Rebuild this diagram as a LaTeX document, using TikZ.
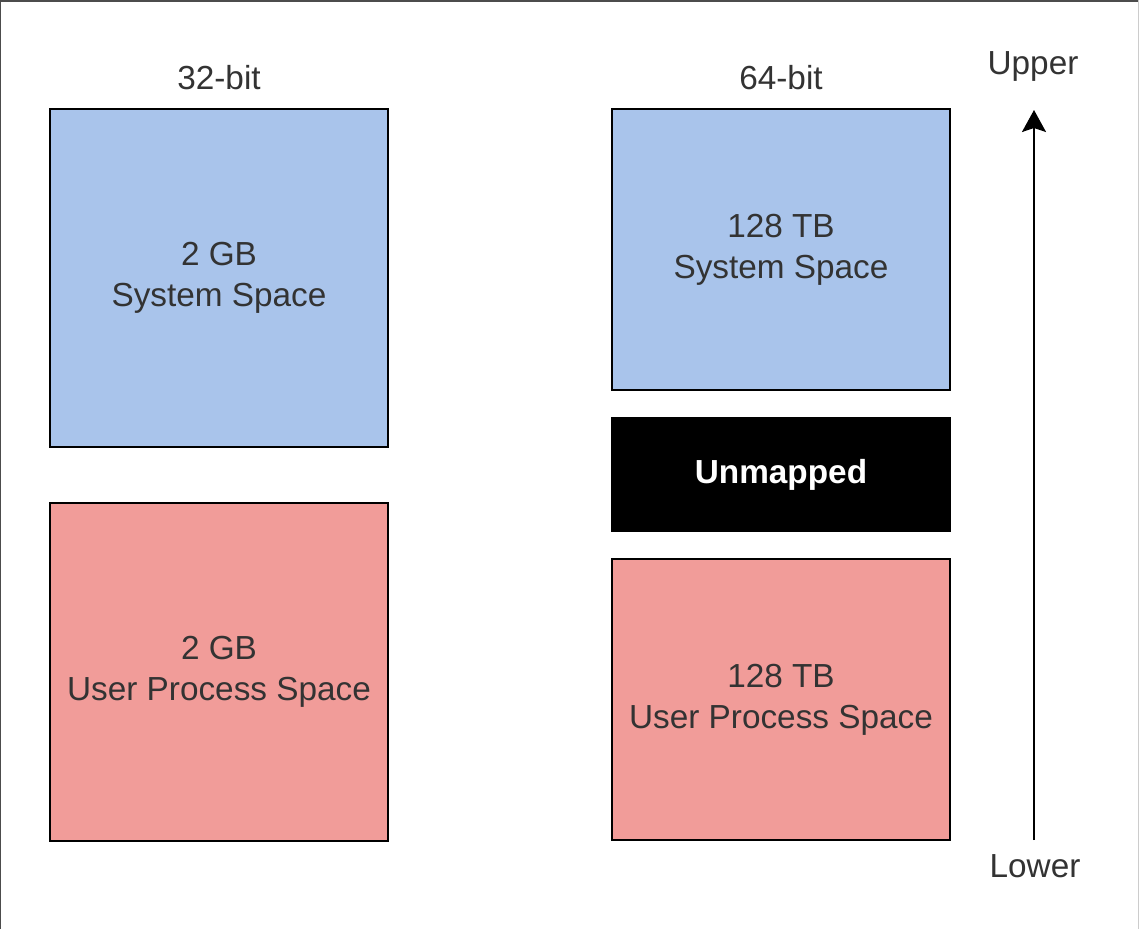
\documentclass[tikz,border=0pt]{standalone}
\usepackage{fontspec}
\setmainfont{Liberation Sans}
\usetikzlibrary{arrows.meta}
\definecolor{sysblue}{HTML}{A9C4EB}
\definecolor{userred}{HTML}{F19C99}
\definecolor{txt}{HTML}{333333}
\begin{document}
\begin{tikzpicture}[x=0.75pt,y=-0.75pt,
  every node/.style={font=\fontsize{25}{30.75}\selectfont, text=txt, align=center, inner sep=0pt},
  membox/.style={draw=black, line width=1.5pt, minimum width=253.5pt},
  sysbox/.style={membox, fill=sysblue},
  userbox/.style={membox, fill=userred},
  label/.style={},
  dirarrow/.style={draw=black, line width=1.5pt, -{Stealth[length=16.5pt,width=18pt,inset=3pt]}}]
\useasboundingbox (0,0) rectangle (1139,929);
\fill[white] (0,0) rectangle (1139,929);
\draw[black!70, line width=1.5pt] (0,929) -- (0,0.75) -- (1139,0.75);
\draw[black!20, line width=0.75pt] (1138.5,0) -- (1138.5,929);
% 32-bit
\node[label] (l32) at (219,78) {32-bit};
\node[sysbox, minimum height=253.5pt] (sys32) at (219,278) {2 GB\\System Space};
\node[userbox, minimum height=253.5pt] (usr32) at (219,672) {2 GB\\User Process Space};
% 64-bit
\node[label] (l64) at (781,78) {64-bit};
\node[sysbox, minimum height=210.75pt] (sys64) at (781,249.5) {128 TB\\System Space};
\node[membox, fill=black, minimum height=84.75pt, text=white, font=\fontsize{25}{30.75}\selectfont\bfseries] (unm) at (781,474.5) {Unmapped};
\node[userbox, minimum height=210.75pt] (usr64) at (781,699.5) {128 TB\\User Process Space};
% direction
\node[label] (upper) at (1033,66) {Upper};
\node[label] (lower) at (1035,866) {Lower};
\coordinate (abot) at (1034,840);
\coordinate (atop) at (1034,110);
\draw[dirarrow] (abot) -- (atop);
\end{tikzpicture}
\end{document}
